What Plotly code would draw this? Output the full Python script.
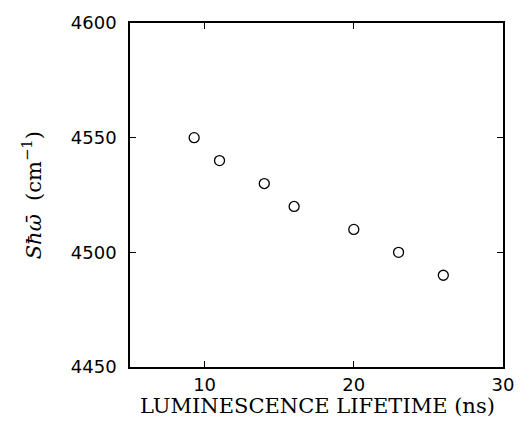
import plotly.graph_objects as go

lifetime_ns = [9.3, 11.0, 14.0, 16.0, 20.0, 23.0, 26.0]
s_hbar_omega = [4550, 4540, 4530, 4520, 4510, 4500, 4490]
x_ticks = [10, 20, 30]
y_ticks = [4450, 4500, 4550, 4600]

fig = go.Figure()
fig.add_trace(go.Scatter(
    x=lifetime_ns, y=s_hbar_omega, mode="markers",
    marker=dict(symbol="circle-open", size=10, color="black", line=dict(width=1.3, color="black")),
    showlegend=False,
))

axis_common = dict(
    showline=True, linecolor="black", linewidth=1.5, mirror="ticks",
    ticks="inside", ticklen=6, tickwidth=1.2, tickcolor="black",
    showgrid=False, zeroline=False,
    tickfont=dict(family="DejaVu Sans", size=18, color="black"),
)

fig.update_xaxes(range=[5, 30], tickvals=x_ticks, ticklabelstandoff=1, **axis_common)
fig.update_yaxes(range=[4450, 4600], tickvals=y_ticks, ticklabelstandoff=8, **axis_common)

fig.add_annotation(
    text="LUMINESCENCE LIFETIME (ns)", xref="paper", yref="paper",
    x=0.503, y=-0.114, xanchor="center", yanchor="middle", showarrow=False,
    font=dict(family="DejaVu Serif", size=21, color="black"),
)
fig.add_annotation(
    text="<i>Sħω̄</i>  (cm<sup>−1</sup>)", xref="paper", yref="paper",
    x=-0.262, y=0.5, xanchor="center", yanchor="middle", textangle=-90, showarrow=False,
    font=dict(family="DejaVu Serif", size=21, color="black"),
)

fig.update_layout(
    width=526, height=437,
    margin=dict(l=130, r=16, t=15, b=70),
    paper_bgcolor="white", plot_bgcolor="white",
)
fig.write_html("out.html")
